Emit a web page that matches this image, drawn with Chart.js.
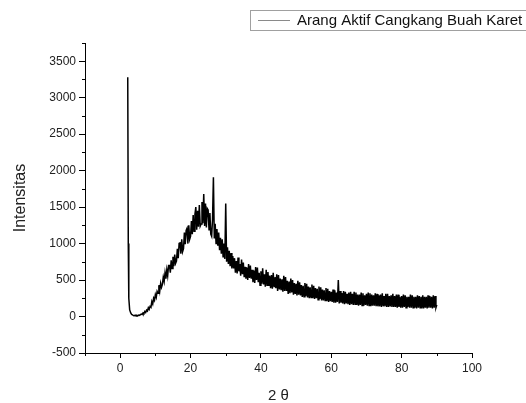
<!DOCTYPE html>
<html>
<head>
<meta charset="utf-8">
<title>XRD Arang Aktif</title>
<script src="https://cdn.jsdelivr.net/npm/chart.js@4.4.1/dist/chart.umd.min.js"></script>
<style>
  html, body { margin: 0; padding: 0; background: #fff; }
  #wrap { width: 526px; height: 403px; position: relative; }
</style>
</head>
<body>
<div id="wrap"><canvas id="xrd"></canvas></div>
<script>
// data (2 theta in degrees, intensity in counts)
const seriesLabel = "Arang Aktif Cangkang Buah Karet";

const twoTheta = [
  2.15, 2.3, 2.45, 2.7,
  3, 3.25, 3.5, 3.75,   4, 4.25, 4.5, 4.75,   5, 5.25, 5.5, 5.75,   6, 6.25, 6.5, 6.75,
  7, 7.25, 7.5, 7.75,   8, 8.25, 8.5, 8.75,   9, 9.25, 9.5, 9.75,   10, 10.25, 10.5, 10.75,
  11, 11.25, 11.5, 11.75,   12, 12.25, 12.5, 12.75,   13, 13.25, 13.5, 13.75,   14, 14.25, 14.5, 14.75,
  15, 15.25, 15.5, 15.75,   16, 16.25, 16.5, 16.75,   17, 17.25, 17.5, 17.75,   18, 18.25, 18.5, 18.75,
  19, 19.25, 19.5, 19.75,   20, 20.25, 20.5, 20.75,   21, 21.25, 21.5, 21.75,   22, 22.25, 22.5, 22.75,
  23, 23.25, 23.5, 23.75,   24, 24.25, 24.5, 24.75,   25, 25.25, 25.5, 25.75,   26, 26.25, 26.5, 26.75,
  27, 27.25, 27.5, 27.75,   28, 28.25, 28.5, 28.75,   29, 29.25, 29.5, 29.75,   30, 30.25, 30.5, 30.75,
  31, 31.25, 31.5, 31.75,   32, 32.25, 32.5, 32.75,   33, 33.25, 33.5, 33.75,   34, 34.25, 34.5, 34.75,
  35, 35.25, 35.5, 35.75,   36, 36.25, 36.5, 36.75,   37, 37.25, 37.5, 37.75,   38, 38.25, 38.5, 38.75,
  39, 39.25, 39.5, 39.75,   40, 40.25, 40.5, 40.75,   41, 41.25, 41.5, 41.75,   42, 42.25, 42.5, 42.75,
  43, 43.25, 43.5, 43.75,   44, 44.25, 44.5, 44.75,   45, 45.25, 45.5, 45.75,   46, 46.25, 46.5, 46.75,
  47, 47.25, 47.5, 47.75,   48, 48.25, 48.5, 48.75,   49, 49.25, 49.5, 49.75,   50, 50.25, 50.5, 50.75,
  51, 51.25, 51.5, 51.75,   52, 52.25, 52.5, 52.75,   53, 53.25, 53.5, 53.75,   54, 54.25, 54.5, 54.75,
  55, 55.25, 55.5, 55.75,   56, 56.25, 56.5, 56.75,   57, 57.25, 57.5, 57.75,   58, 58.25, 58.5, 58.75,
  59, 59.25, 59.5, 59.75,   60, 60.25, 60.5, 60.75,   61, 61.25, 61.5, 61.75,   62, 62.25, 62.5, 62.75,
  63, 63.25, 63.5, 63.75,   64, 64.25, 64.5, 64.75,   65, 65.25, 65.5, 65.75,   66, 66.25, 66.5, 66.75,
  67, 67.25, 67.5, 67.75,   68, 68.25, 68.5, 68.75,   69, 69.25, 69.5, 69.75,   70, 70.25, 70.5, 70.75,
  71, 71.25, 71.5, 71.75,   72, 72.25, 72.5, 72.75,   73, 73.25, 73.5, 73.75,   74, 74.25, 74.5, 74.75,
  75, 75.25, 75.5, 75.75,   76, 76.25, 76.5, 76.75,   77, 77.25, 77.5, 77.75,   78, 78.25, 78.5, 78.75,
  79, 79.25, 79.5, 79.75,   80, 80.25, 80.5, 80.75,   81, 81.25, 81.5, 81.75,   82, 82.25, 82.5, 82.75,
  83, 83.25, 83.5, 83.75,   84, 84.25, 84.5, 84.75,   85, 85.25, 85.5, 85.75,   86, 86.25, 86.5, 86.75,
  87, 87.25, 87.5, 87.75,   88, 88.25, 88.5, 88.75,   89, 89.25, 89.5, 89.75,   90
];

const intensitas = [
  3280, 1000, 250, 90,
  48, 30, 24, 14,   12, 18, 8, 15,   10, 20, 16, 26,   34, 28, 50, 42,
  70, 55, 88, 76,   120, 98, 140, 128,   205, 172, 250, 222,   300, 262, 345, 318,
  430, 350, 455, 400,   440, 540, 480, 600,   520, 640, 560, 700,   700, 600, 770, 660,
  820, 690, 850, 730,   760, 930, 800, 1000,   1020, 860, 1060, 890,   930, 1150, 990, 1180,
  1210, 1000, 1250, 1060,   1100, 1310, 1130, 1390,   1170, 1400, 1500, 1190,   1450, 1230, 1530, 1240,
  1270, 1570, 1280, 1680,   1240, 1550, 1220, 1480,   1460, 1190, 1420, 1130,   1100, 1330, 1910, 1070,
  1270, 1000, 1200, 970,   1150, 910, 1080, 860,   1060, 820, 1000, 790,   1550, 750, 950, 720,
  900, 690, 870, 660,   830, 660, 800, 600,   760, 590, 810, 620,   720, 560, 780, 580,
  740, 540, 680, 520,   670, 500, 720, 530,   700, 520, 640, 470,   630, 460, 680, 500,
  670, 470, 600, 430,   620, 450, 660, 440,   580, 410, 640, 430,   610, 420, 560, 390,
  570, 380, 600, 410,   540, 390, 580, 350,   570, 370, 520, 360,   510, 340, 560, 350,
  540, 350, 490, 310,   480, 320, 520, 330,   500, 300, 460, 310,   450, 290, 490, 300,
  470, 290, 430, 270,   420, 270, 460, 280,   450, 260, 410, 250,   400, 260, 440, 250,
  420, 240, 390, 250,   380, 230, 410, 240,   400, 220, 370, 220,   360, 220, 390, 210,
  380, 200, 350, 210,   340, 200, 370, 190,   360, 190, 330, 200,   500, 180, 350, 190,
  320, 180, 350, 170,   340, 180, 310, 170,   330, 160, 340, 170,   310, 160, 340, 170,
  330, 160, 300, 150,   300, 160, 330, 150,   320, 150, 290, 160,   310, 150, 330, 150,
  320, 140, 300, 150,   290, 150, 320, 140,   310, 140, 290, 140,   300, 130, 320, 140,
  280, 140, 310, 130,   310, 130, 280, 140,   290, 130, 310, 130,   280, 130, 300, 120,
  300, 130, 270, 120,   280, 120, 300, 130,   290, 120, 270, 130,   270, 120, 300, 120,
  290, 120, 270, 120,   270, 110, 290, 120,   280, 120, 270, 110,   290, 110, 270, 120,
  270, 110, 290, 120,   280, 120, 270, 110,   290, 120, 280, 120,   160
];

// axis ticks: labelled ones and the short ones between them
const xTicks = [0, 20, 40, 60, 80, 100];
const yTicks = [-500, 0, 500, 1000, 1500, 2000, 2500, 3000, 3500];
const xMinorTicks = [-10, 10, 30, 50, 70, 90];
const yMinorTicks = [-250, 250, 750, 1250, 1750, 2250, 2750, 3250, 3750];

const fontFamily = "'Liberation Sans', Arial, sans-serif";

const puntos = twoTheta.map((x, i) => ({ x: x, y: intensitas[i] }));

// legend box at top right, cut by the right edge like the original
const legendaPlugin = {
  id: "legenda",
  afterDraw(chart) {
    const ctx = chart.ctx;
    ctx.save();
    ctx.strokeStyle = "#a0a0a0";
    ctx.lineWidth = 1;
    ctx.strokeRect(250.5, 10.5, 300, 20);
    ctx.strokeStyle = "#8a8a8a";
    ctx.beginPath();
    ctx.moveTo(258, 20.5);
    ctx.lineTo(290, 20.5);
    ctx.stroke();
    ctx.fillStyle = "#111";
    ctx.font = "15px " + fontFamily;
    ctx.textBaseline = "middle";
    ctx.textAlign = "left";
    ctx.fillText(chart.data.datasets[0].label, 297, 21);
    ctx.restore();
  }
};

// small ticks between major ticks
const minorTickPlugin = {
  id: "minorTicks",
  afterDraw(chart) {
    const ctx = chart.ctx;
    const xs = chart.scales.x;
    const ys = chart.scales.y;
    ctx.save();
    ctx.strokeStyle = "#000";
    ctx.lineWidth = 1;
    ctx.beginPath();
    xMinorTicks.forEach(v => {
      const px = Math.round(xs.getPixelForValue(v)) + 0.5;
      ctx.moveTo(px, xs.top);
      ctx.lineTo(px, xs.top + 3);
    });
    yMinorTicks.forEach(v => {
      const py = Math.round(ys.getPixelForValue(v)) + 0.5;
      ctx.moveTo(ys.right, py);
      ctx.lineTo(ys.right - 3, py);
    });
    ctx.stroke();
    ctx.restore();
  }
};

new Chart(document.getElementById("xrd"), {
  type: "line",
  data: {
    datasets: [{
      label: seriesLabel,
      data: puntos,
      borderColor: "#000",
      borderWidth: 1.5,
      borderJoinStyle: "miter",
      pointRadius: 0,
      fill: false,
      tension: 0
    }]
  },
  options: {
    responsive: true,
    maintainAspectRatio: false,
    animation: false,
    layout: { padding: { left: 0, top: 43, right: 54, bottom: 0 } },
    plugins: {
      legend: { display: false },
      tooltip: { enabled: false }
    },
    scales: {
      x: {
        type: "linear",
        min: -10,
        max: 100,
        afterFit: s => { s.height = 50; },
        afterBuildTicks: s => { s.ticks = xTicks.map(v => ({ value: v })); },
        grid: { display: true, drawOnChartArea: false, tickLength: 5, color: "#000" },
        border: { display: true, color: "#000", width: 1 },
        ticks: {
          padding: 3,
          color: "#222",
          font: { family: fontFamily, size: 12 },
          maxRotation: 0,
          callback: v => String(v)
        },
        title: {
          display: true,
          text: "2 θ",
          color: "#222",
          font: { family: fontFamily, size: 15, lineHeight: 1 },
          padding: { top: 0, bottom: 0 }
        }
      },
      y: {
        type: "linear",
        min: -500,
        max: 3750,
        afterFit: s => { s.width = 85; },
        afterBuildTicks: s => { s.ticks = yTicks.map(v => ({ value: v })); },
        grid: { display: true, drawOnChartArea: false, tickLength: 6, color: "#000" },
        border: { display: true, color: "#000", width: 1 },
        ticks: {
          padding: 3,
          color: "#222",
          font: { family: fontFamily, size: 12 },
          callback: v => String(v)
        },
        title: {
          display: true,
          text: "Intensitas",
          color: "#222",
          font: { family: fontFamily, size: 16, lineHeight: 1.2 },
          padding: { top: 11, bottom: 0 }
        }
      }
    }
  },
  plugins: [minorTickPlugin, legendaPlugin]
});
</script>
</body>
</html>
